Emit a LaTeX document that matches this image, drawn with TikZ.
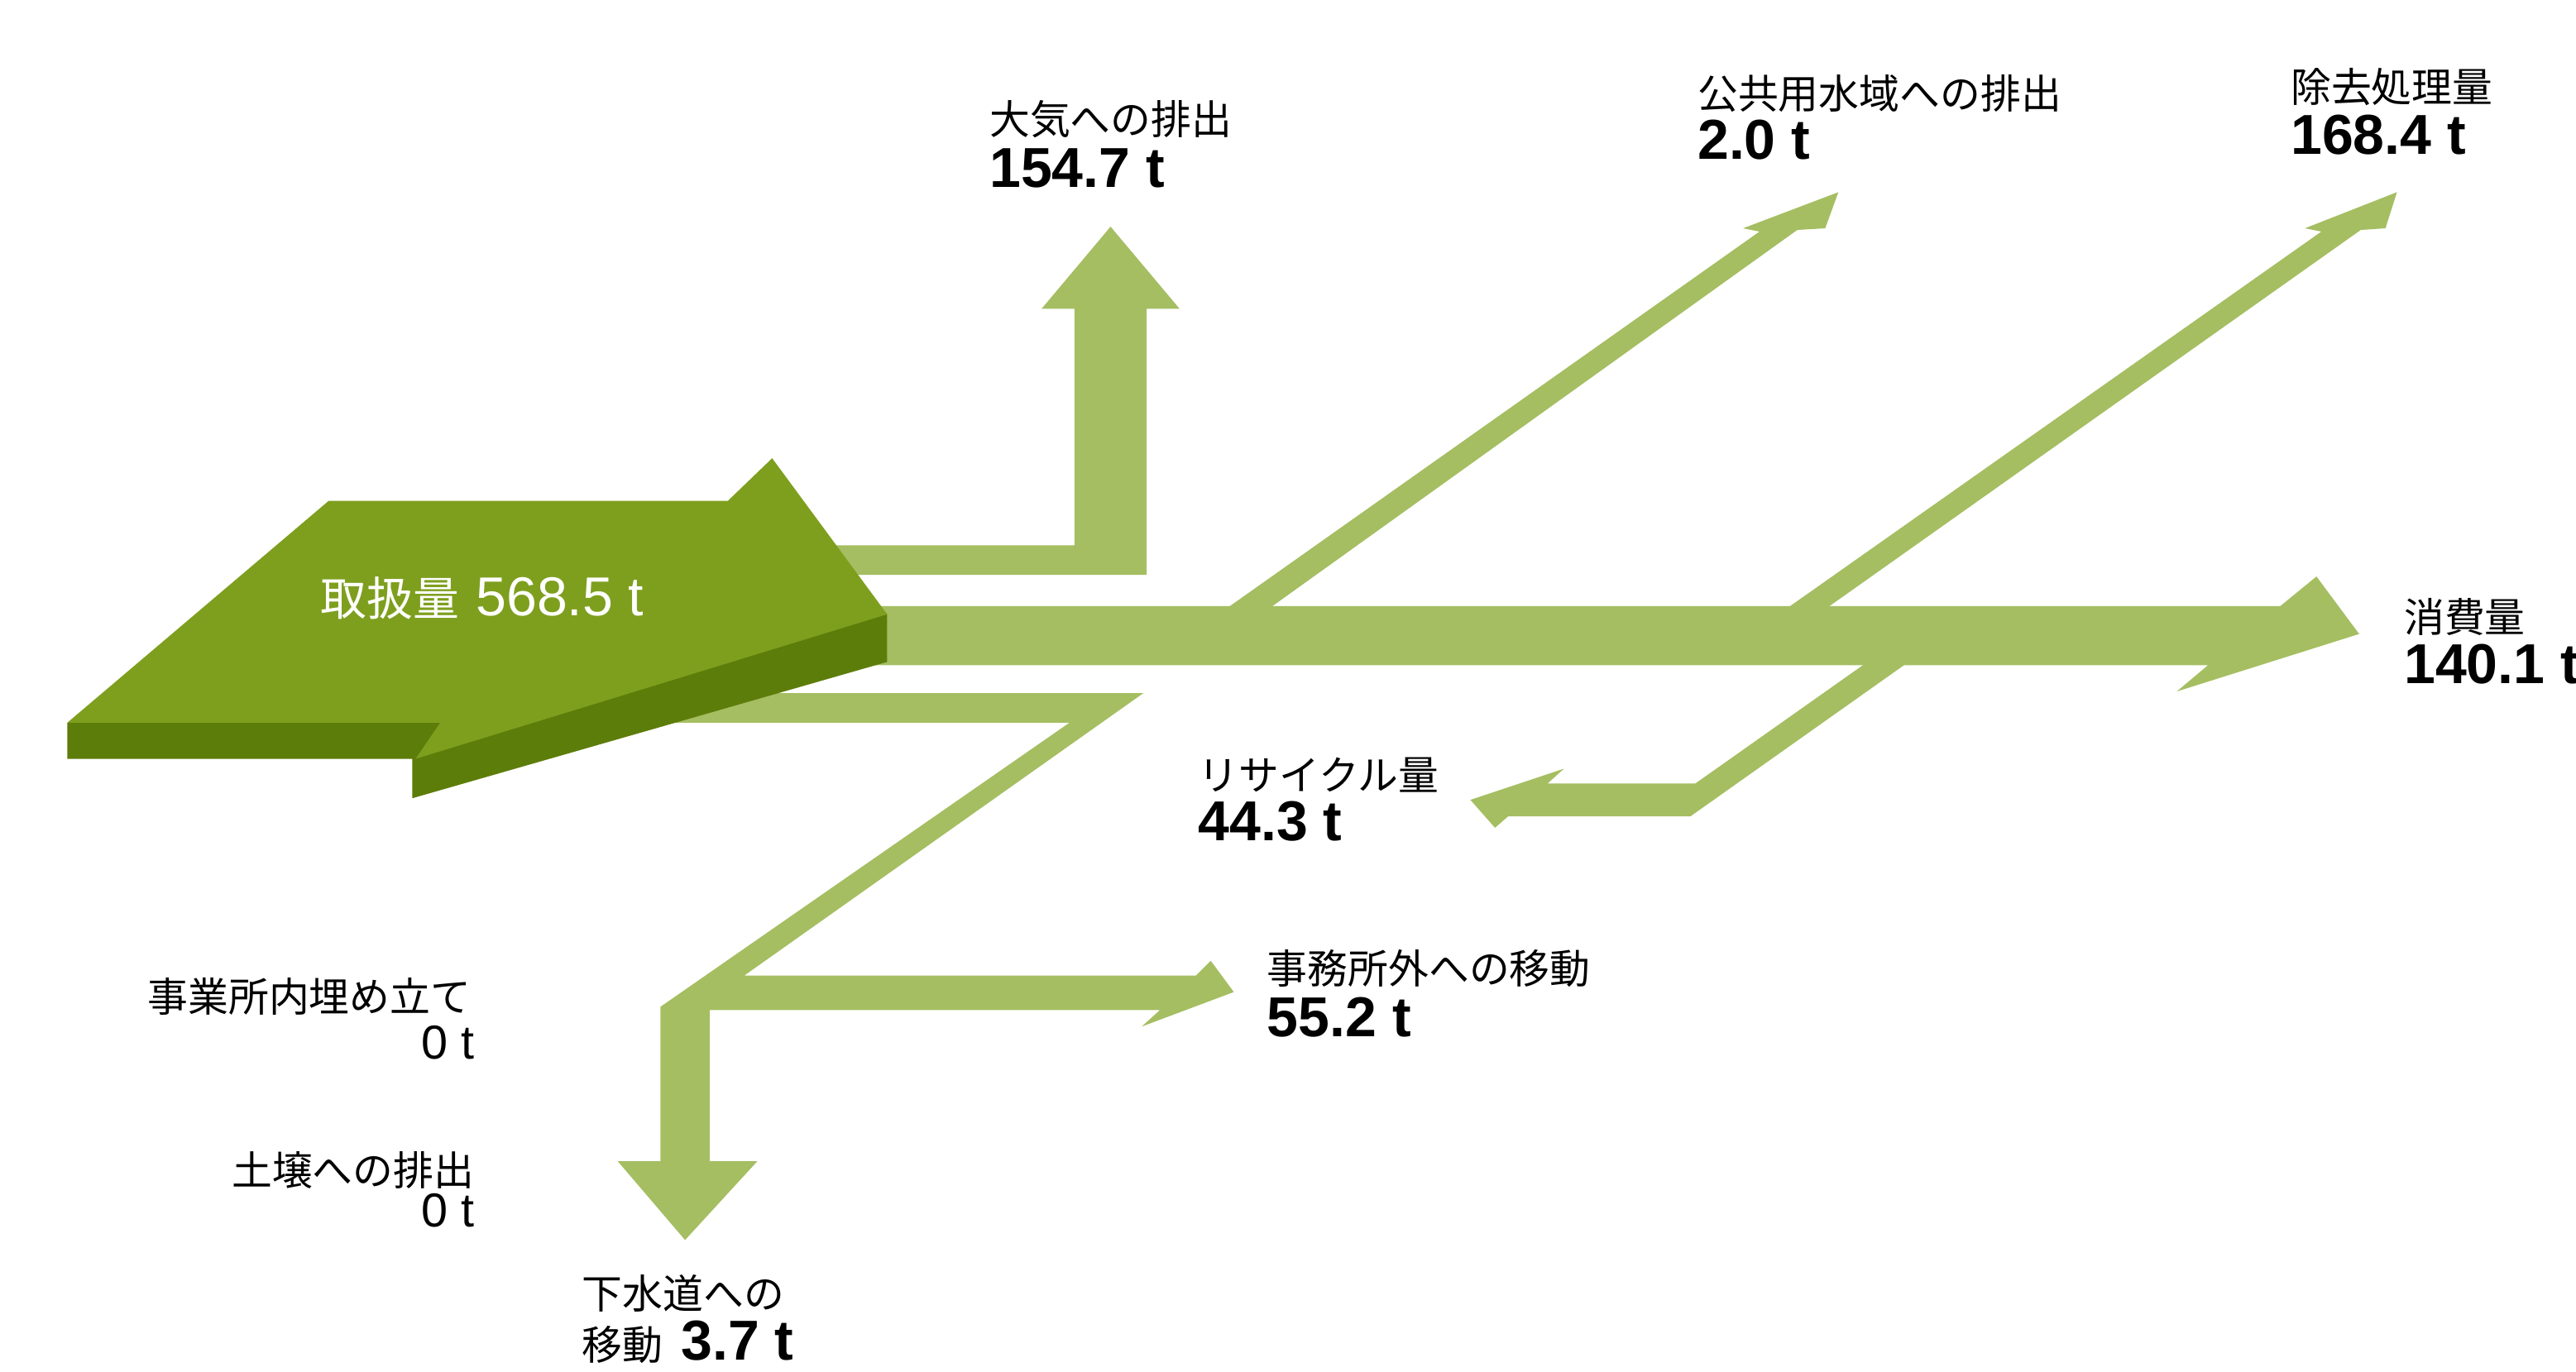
\documentclass[tikz,border=0pt]{standalone}
\usepackage{fontspec}
\setmainfont{Liberation Sans}
\newfontfamily\jp{Noto Sans CJK JP}
\definecolor{hellgruen}{RGB}{165,190,98}
\definecolor{gruen}{RGB}{126,159,30}
\definecolor{dunkelgruen}{RGB}{93,125,10}
\tikzset{
  strom/.style={fill=hellgruen,draw=none},
  oben/.style={fill=gruen,draw=none},
  seite/.style={fill=dunkelgruen,draw=none},
  bez/.style={inner sep=0pt,anchor=base west,font=\jp\fontsize{14}{14}\selectfont},
  wert/.style={inner sep=0pt,anchor=base west,font=\bfseries\fontsize{19.5}{19.5}\selectfont},
  nullwert/.style={inner sep=0pt,anchor=base east,font=\fontsize{16.5}{16.5}\selectfont}
}
\begin{document}
\begin{tikzpicture}[x=0.02cm,y=-0.02cm]
\useasboundingbox (0,0) rectangle (1568,835);
% Stroeme
\fill[strom] (500,332) -- (654,332) -- (654,188) -- (634,188) -- (676,138) -- (718,188) -- (698,188) -- (698,350) -- (500,350) -- cycle;
\fill[strom] (510,369) -- (1388,369) -- (1410,351) -- (1436,386) -- (1325,421) -- (1344,405) -- (510,405) -- cycle;
\fill[strom] (743,373) -- (1071,141) -- (1061,139) -- (1119,117) -- (1111,139) -- (1094,140) -- (769,373) -- cycle;
\fill[strom] (1084,373) -- (1413,141) -- (1403,139) -- (1459,117) -- (1452,139) -- (1437,140) -- (1108,373) -- cycle;
\fill[strom] (1141,400) -- (1032,477) -- (942,477) -- (952,468) -- (895,487) -- (910,504) -- (918,497) -- (1029,497) -- (1166,400) -- cycle;
\fill[strom] (400,422) -- (696,422) -- (453,594) -- (728,594) -- (737,585) -- (751,604) -- (695,625) -- (706,615) -- (432,615)
  -- (432,707) -- (461,707) -- (417,755) -- (376,707) -- (402,707) -- (402,613) -- (651,440) -- (400,440) -- cycle;
% Hauptpfeil
\fill[seite] (41,440) -- (268,440) -- (540,374) -- (540,403) -- (251,486) -- (251,462) -- (41,462) -- cycle;
\fill[oben] (41,440) -- (200,305) -- (443,305) -- (470,279) -- (540,374) -- (253,462) -- (268,440) -- cycle;
\node[anchor=base west,inner sep=0pt,text=white,font=\jp\fontsize{16}{16}\selectfont] (menge) at (195,375)
  {取扱量\hspace{0.2cm}{\normalfont\fontsize{19}{19}\selectfont 568.5 t}};
% Beschriftung
\node[bez] (luft) at (602,82) {大気への排出};
\node[wert] (luftwert) at (602,114) {154.7 t};
\node[bez] (wasser) at (1033,66) {公共用水域への排出};
\node[wert] (wasserwert) at (1033,97) {2.0 t};
\node[bez] (beseit) at (1394,62) {除去処理量};
\node[wert] (beseitwert) at (1394,94) {168.4 t};
\node[bez] (verbrauch) at (1463,385) {消費量};
\node[wert] (verbrauchwert) at (1463,416) {140.1 t};
\node[bez] (recycling) at (729,481) {リサイクル量};
\node[wert] (recyclingwert) at (729,512) {44.3 t};
\node[bez] (extern) at (771,599) {事務所外への移動};
\node[wert] (externwert) at (771,631) {55.2 t};
\node[bez,anchor=base east] (deponie) at (287,616) {事業所内埋め立て};
\node[nullwert] (deponiewert) at (289,645) {0 t};
\node[bez,anchor=base east] (boden) at (289,722) {土壌への排出};
\node[nullwert] (bodenwert) at (289,747) {0 t};
\node[bez] (kanal) at (354,797) {下水道への};
\node[bez] (kanalwert) at (354,828) {移動\hspace{0.22cm}{\normalfont\bfseries\fontsize{19.5}{19.5}\selectfont 3.7 t}};
\end{tikzpicture}
\end{document}
